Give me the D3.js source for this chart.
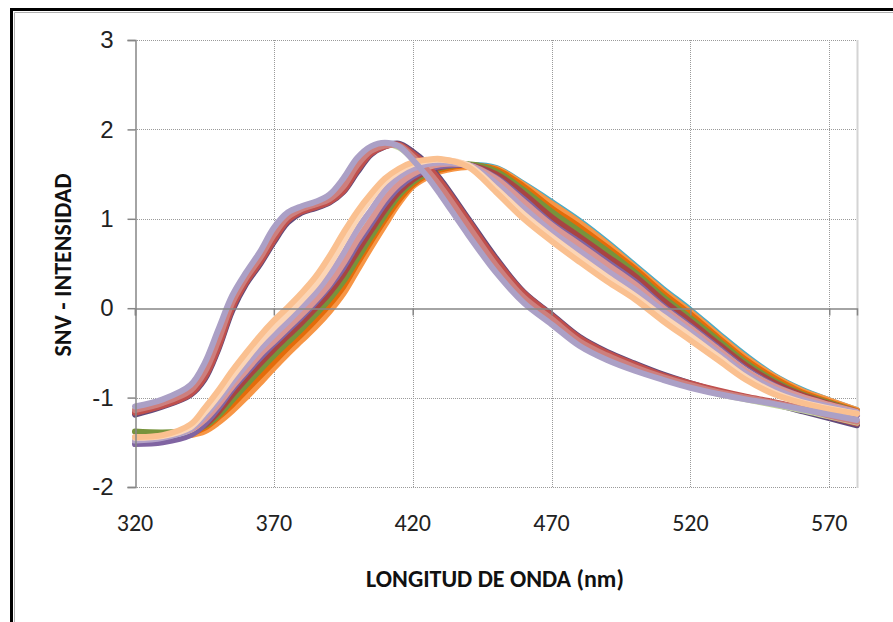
<!DOCTYPE html>
<html>
<head>
<meta charset="utf-8">
<script src="https://d3js.org/d3.v7.min.js"></script>
<style>
  body { margin: 0; background: #fff; }
  svg { display: block; font-family: Carlito, Calibri, Lato, sans-serif; }
</style>
</head>
<body>
<svg id="chart" width="893" height="622"></svg>
<script>
// wavelengths (nm) shared by every spectrum
var wavelengths = [320, 330, 340, 345, 350, 355, 360, 365, 370, 375, 380, 385, 390, 395, 400, 405, 410, 415,
  420, 425, 430, 440, 450, 460, 470, 480, 490, 500, 510, 520, 530, 540, 550, 560, 570, 580];

var xTicks = [320, 370, 420, 470, 520, 570];
var yTicks = [-2, -1, 0, 1, 2, 3];

// group with peak near 410 nm
var aBlue = [-1.15, -1.07, -0.93, -0.74, -0.38, 0.05, 0.33, 0.55, 0.80, 1.01, 1.10, 1.15, 1.21, 1.35, 1.59, 1.76, 1.83, 1.83,
  1.71, 1.56, 1.37, 0.93, 0.49, 0.13, -0.11, -0.36, -0.52, -0.65, -0.76, -0.86, -0.94, -1.00, -1.06, -1.12, -1.20, -1.27];
var aPurple = [-1.19, -1.10, -0.97, -0.80, -0.46, -0.03, 0.27, 0.49, 0.74, 0.96, 1.07, 1.12, 1.18, 1.30, 1.52, 1.72, 1.81, 1.84,
  1.75, 1.62, 1.44, 1.00, 0.56, 0.18, -0.07, -0.32, -0.49, -0.62, -0.74, -0.84, -0.93, -1.00, -1.07, -1.15, -1.23, -1.31];
var aRed = [-1.17, -1.09, -0.96, -0.78, -0.44, 0.00, 0.29, 0.51, 0.76, 0.98, 1.08, 1.13, 1.19, 1.31, 1.54, 1.73, 1.81, 1.83,
  1.73, 1.60, 1.42, 0.98, 0.54, 0.17, -0.08, -0.33, -0.50, -0.63, -0.75, -0.84, -0.92, -0.99, -1.05, -1.12, -1.21, -1.29];
var aGreen = [-1.13, -1.05, -0.90, -0.70, -0.32, 0.09, 0.37, 0.59, 0.85, 1.04, 1.12, 1.17, 1.24, 1.39, 1.63, 1.78, 1.83, 1.80,
  1.67, 1.50, 1.30, 0.86, 0.43, 0.08, -0.16, -0.41, -0.57, -0.69, -0.79, -0.88, -0.96, -1.02, -1.08, -1.14, -1.21, -1.28];
var aRose = [-1.14, -1.06, -0.92, -0.72, -0.36, 0.06, 0.34, 0.56, 0.82, 1.02, 1.11, 1.16, 1.22, 1.36, 1.60, 1.76, 1.82, 1.82,
  1.70, 1.55, 1.36, 0.92, 0.48, 0.12, -0.12, -0.37, -0.53, -0.66, -0.77, -0.86, -0.94, -1.00, -1.06, -1.12, -1.20, -1.27];
var aLavender = [-1.10, -1.02, -0.86, -0.62, -0.24, 0.14, 0.40, 0.63, 0.90, 1.07, 1.14, 1.19, 1.27, 1.45, 1.68, 1.81, 1.85, 1.81,
  1.66, 1.48, 1.27, 0.82, 0.40, 0.06, -0.18, -0.42, -0.58, -0.70, -0.80, -0.89, -0.96, -1.02, -1.07, -1.13, -1.19, -1.25];

// group with peak near 435 nm
var bAqua = [-1.45, -1.44, -1.40, -1.35, -1.25, -1.11, -0.96, -0.80, -0.63, -0.47, -0.32, -0.17, 0.00, 0.20, 0.47, 0.72, 0.96, 1.19,
  1.37, 1.48, 1.54, 1.60, 1.57, 1.39, 1.19, 0.98, 0.74, 0.48, 0.22, -0.02, -0.28, -0.53, -0.75, -0.91, -1.03, -1.14];
var bOrange = [-1.47, -1.46, -1.42, -1.38, -1.28, -1.15, -1.00, -0.84, -0.67, -0.51, -0.36, -0.21, -0.04, 0.16, 0.42, 0.68, 0.93, 1.17,
  1.36, 1.46, 1.53, 1.58, 1.56, 1.38, 1.17, 0.96, 0.72, 0.46, 0.20, -0.04, -0.30, -0.55, -0.76, -0.92, -1.03, -1.14];
var bDarkOrange = [-1.46, -1.45, -1.40, -1.34, -1.22, -1.08, -0.92, -0.76, -0.60, -0.44, -0.29, -0.13, 0.04, 0.24, 0.50, 0.75, 0.99, 1.21,
  1.38, 1.49, 1.55, 1.60, 1.55, 1.36, 1.12, 0.91, 0.68, 0.44, 0.17, -0.07, -0.33, -0.58, -0.78, -0.94, -1.05, -1.15];
var bGreen = [-1.38, -1.39, -1.37, -1.32, -1.20, -1.03, -0.86, -0.69, -0.53, -0.38, -0.23, -0.07, 0.10, 0.30, 0.55, 0.80, 1.04, 1.26,
  1.41, 1.51, 1.57, 1.61, 1.53, 1.32, 1.08, 0.86, 0.64, 0.40, 0.13, -0.11, -0.36, -0.61, -0.81, -0.96, -1.06, -1.16];
var bRed = [-1.47, -1.45, -1.39, -1.31, -1.16, -0.97, -0.79, -0.62, -0.46, -0.31, -0.16, 0.00, 0.17, 0.38, 0.63, 0.87, 1.10, 1.30,
  1.44, 1.53, 1.58, 1.60, 1.50, 1.28, 1.02, 0.80, 0.58, 0.36, 0.09, -0.15, -0.40, -0.64, -0.83, -0.97, -1.07, -1.16];
var bPurple = [-1.52, -1.50, -1.42, -1.30, -1.12, -0.91, -0.73, -0.56, -0.40, -0.25, -0.10, 0.06, 0.24, 0.45, 0.71, 0.94, 1.17, 1.35,
  1.47, 1.55, 1.59, 1.60, 1.46, 1.22, 0.95, 0.74, 0.52, 0.30, 0.03, -0.20, -0.44, -0.68, -0.86, -0.99, -1.09, -1.20];
var bLightBlue = [-1.46, -1.44, -1.36, -1.24, -1.06, -0.86, -0.68, -0.50, -0.34, -0.19, -0.04, 0.12, 0.31, 0.54, 0.80, 1.03, 1.26, 1.42,
  1.53, 1.59, 1.62, 1.60, 1.43, 1.16, 0.90, 0.68, 0.46, 0.25, 0.00, -0.23, -0.47, -0.70, -0.88, -1.01, -1.09, -1.17];
var bRose = [-1.45, -1.43, -1.36, -1.25, -1.08, -0.88, -0.70, -0.52, -0.37, -0.22, -0.07, 0.09, 0.27, 0.50, 0.76, 0.99, 1.22, 1.39,
  1.50, 1.57, 1.61, 1.60, 1.45, 1.19, 0.93, 0.71, 0.49, 0.27, 0.01, -0.22, -0.46, -0.70, -0.87, -0.99, -1.08, -1.16];
var bLavender = [-1.48, -1.45, -1.35, -1.21, -1.03, -0.83, -0.64, -0.46, -0.30, -0.15, 0.01, 0.17, 0.37, 0.61, 0.88, 1.10, 1.32, 1.47,
  1.56, 1.61, 1.63, 1.60, 1.40, 1.12, 0.86, 0.64, 0.42, 0.21, -0.03, -0.26, -0.50, -0.73, -0.90, -1.02, -1.10, -1.17];
var bPeach = [-1.45, -1.43, -1.33, -1.17, -0.98, -0.77, -0.57, -0.38, -0.22, -0.07, 0.09, 0.26, 0.48, 0.74, 1.00, 1.22, 1.41, 1.53,
  1.61, 1.65, 1.66, 1.60, 1.34, 1.05, 0.80, 0.57, 0.35, 0.14, -0.09, -0.31, -0.54, -0.77, -0.94, -1.05, -1.12, -1.18];
var bSalmon = [-1.44, -1.42, -1.30, -1.12, -0.92, -0.70, -0.50, -0.31, -0.14, 0.01, 0.17, 0.35, 0.58, 0.84, 1.08, 1.28, 1.45, 1.56,
  1.63, 1.66, 1.67, 1.58, 1.30, 1.00, 0.75, 0.52, 0.30, 0.10, -0.14, -0.36, -0.58, -0.80, -0.96, -1.06, -1.13, -1.18];

// drawing order, later series sit on top
var series = [
  { values: bAqua, color: '#4BACC6' },
  { values: bOrange, color: '#F79646' },
  { values: bDarkOrange, color: '#E46C0A' },
  { values: bGreen, color: '#77933C' },
  { values: aBlue, color: '#4F81BD' },
  { values: bRed, color: '#A84442' },
  { values: aPurple, color: '#604A7B' },
  { values: bPurple, color: '#8064A2' },
  { values: aRed, color: '#C0504D' },
  { values: aGreen, color: '#C3D69B' },
  { values: bLightBlue, color: '#B7DEE8' },
  { values: bRose, color: '#D99694' },
  { values: aRose, color: '#CD7F7D' },
  { values: bLavender, color: '#B3A2C7' },
  { values: bPeach, color: '#FCD5B5' },
  { values: bSalmon, color: '#FAC090' },
  { values: aLavender, color: '#ABA0C6' }
];

var svg = d3.select('#chart');

var x = d3.scaleLinear().domain([320, 580]).range([135, 857]);
var y = d3.scaleLinear().domain([-2, 3]).range([487, 40]);

// outer frame (cut off at right and bottom)
svg.append('path')
  .attr('d', 'M11.5,622V9.5H893')
  .attr('fill', 'none')
  .attr('stroke', '#000')
  .attr('stroke-width', 3);
svg.append('path')
  .attr('d', 'M14.5,622V12.5H893')
  .attr('fill', 'none')
  .attr('stroke', '#b0b0b0')
  .attr('stroke-width', 1);

// gridlines
svg.append('g')
  .selectAll('line')
  .data(yTicks.filter(function (d) { return d !== 0; }))
  .enter().append('line')
  .attr('x1', x(320)).attr('x2', x(580))
  .attr('y1', function (d) { return Math.round(y(d)) + 0.5; })
  .attr('y2', function (d) { return Math.round(y(d)) + 0.5; })
  .attr('stroke', '#9a9a9a')
  .attr('stroke-dasharray', '1,1');

svg.append('g')
  .selectAll('line')
  .data(xTicks.slice(1))
  .enter().append('line')
  .attr('x1', function (d) { return Math.round(x(d)) + 0.5; })
  .attr('x2', function (d) { return Math.round(x(d)) + 0.5; })
  .attr('y1', y(3)).attr('y2', y(-2))
  .attr('stroke', '#9a9a9a')
  .attr('stroke-dasharray', '1,1');

// right edge of plot area
svg.append('line')
  .attr('x1', 857.5).attr('x2', 857.5)
  .attr('y1', y(3)).attr('y2', y(-2) + 1)
  .attr('stroke', '#d4d4d4')
  .attr('stroke-width', 2);

// spectra
var line = d3.line()
  .x(function (d, i) { return x(wavelengths[i]); })
  .y(function (d) { return y(d); })
  .curve(d3.curveCatmullRom.alpha(0.5));

svg.append('g')
  .selectAll('path')
  .data(series)
  .enter().append('path')
  .attr('d', function (d) { return line(d.values); })
  .attr('fill', 'none')
  .attr('stroke', function (d) { return d.color; })
  .attr('stroke-width', 6)
  .attr('stroke-linejoin', 'round')
  .attr('stroke-linecap', 'round');

// axes: y at left, x crossing at zero
var yAxis = svg.append('g')
  .attr('transform', 'translate(135.5,0)')
  .call(d3.axisLeft(y).tickValues(yTicks).tickSize(8).tickPadding(14).tickFormat(function (d) { return String(d); }));

var xAxis = svg.append('g')
  .attr('transform', 'translate(0,' + (Math.round(y(0)) + 0.5) + ')')
  .call(d3.axisBottom(x).tickValues(xTicks).tickSize(7).tickFormat(''));

[yAxis, xAxis].forEach(function (g) {
  g.select('.domain').attr('stroke', '#868686').attr('stroke-width', 1.5);
  g.selectAll('.tick line').attr('stroke', '#868686').attr('stroke-width', 1.5);
});

yAxis.selectAll('.tick text')
  .attr('fill', '#222')
  .style('font-size', '24px');

// x tick labels sit below the plot area
svg.append('g')
  .selectAll('text')
  .data(xTicks)
  .enter().append('text')
  .attr('x', function (d) { return x(d); })
  .attr('y', 531)
  .attr('text-anchor', 'middle')
  .attr('fill', '#222')
  .style('font-size', '24px')
  .text(function (d) { return d; });

// axis titles
svg.append('text')
  .attr('x', 495)
  .attr('y', 587)
  .attr('text-anchor', 'middle')
  .style('font-size', '24px')
  .style('font-weight', 'bold')
  .attr('fill', '#111')
  .text('LONGITUD DE ONDA (nm)');

svg.append('text')
  .attr('transform', 'translate(71,265) rotate(-90)')
  .attr('text-anchor', 'middle')
  .style('font-size', '24px')
  .style('font-weight', 'bold')
  .attr('fill', '#111')
  .text('SNV - INTENSIDAD');
</script>
</body>
</html>
